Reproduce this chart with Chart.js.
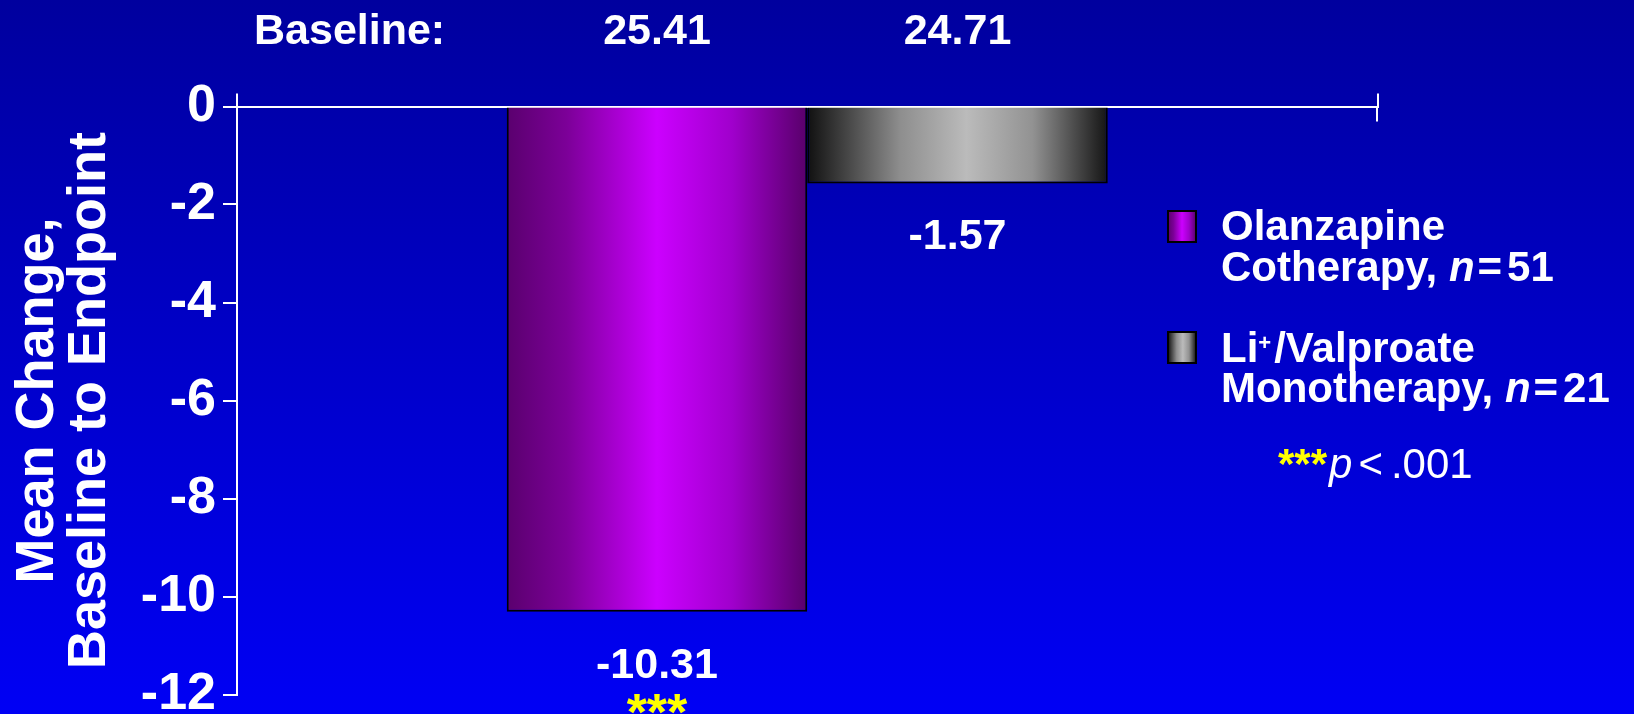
<!DOCTYPE html>
<html><head><meta charset="utf-8">
<script src="https://cdn.jsdelivr.net/npm/chart.js@4.4.1/dist/chart.umd.min.js"></script>
<style>html,body{margin:0;padding:0;background:#0000c8;overflow:hidden}#wrap{width:1634px;height:714px}</style>
</head><body><div id="wrap"><canvas id="c" width="1634" height="714"></canvas></div>
<script>
// ---- data ----
const categories = [''];
const seriesNames = ['Olanzapine Cotherapy', 'Li+/Valproate Monotherapy'];
const meanChange = [-10.31, -1.57];
const baselineValues = [25.41, 24.71];
const sampleSizes = [51, 21];
const significance = ['***', ''];
const yTicks = [0, -2, -4, -6, -8, -10, -12];
const yTitleLines = ['Mean Change,', 'Baseline to Endpoint'];
const baselineLabel = 'Baseline:';
const footnote = { stars: '***', p: 'p', rest: ['<', '.001'] };

// ---- styles ----
const FONT = '"Liberation Sans", Arial, Helvetica, sans-serif';
const gradStops = [
  [[0, '#5a006e'], [0.2, '#7c0098'], [0.5, '#cc00ff'], [0.75, '#a000cc'], [1, '#58006a']],
  [[0, '#101010'], [0.31, '#8e8e8e'], [0.53, '#bbbbbb'], [0.75, '#929292'], [1, '#141414']]
];
function makeGrad(ctx, x0, x1, stops) {
  const g = ctx.createLinearGradient(x0, 0, x1, 0);
  stops.forEach(s => g.addColorStop(s[0], s[1]));
  return g;
}
function barGradient(context) {
  const chart = context.chart;
  const di = context.datasetIndex;
  if (!chart.chartArea) return gradStops[di][2][1];
  let x0, x1;
  try {
    const ctrl = chart.getDatasetMeta(di).controller;
    const ruler = ctrl._getRuler();
    const ip = ctrl._calculateBarIndexPixels(context.dataIndex, ruler);
    x0 = ip.center - ip.size / 2; x1 = ip.center + ip.size / 2;
  } catch (e) {
    const xs = chart.scales.x;
    const n = chart.data.datasets.length;
    const size = xs.width / categories.length * 0.527 / n;
    const c = xs.getPixelForValue(context.dataIndex);
    x0 = c + (di - n / 2) * size; x1 = x0 + size;
  }
  if (!isFinite(x0) || !isFinite(x1)) return gradStops[di][2][1];
  return makeGrad(chart.ctx, x0, x1, gradStops[di]);
}

const bgPlugin = {
  id: 'bg',
  beforeDraw(chart) {
    const { ctx, width, height } = chart;
    const g = ctx.createLinearGradient(0, 0, 0, height);
    g.addColorStop(0, '#00009e');
    g.addColorStop(1, '#0000f5');
    ctx.save(); ctx.fillStyle = g; ctx.fillRect(0, 0, width, height); ctx.restore();
  }
};

function drawSegs(ctx, x, y, segs) {
  let cx = x;
  segs.forEach(s => {
    cx += (s.gap || 0);
    ctx.font = s.font;
    ctx.fillStyle = s.color || '#ffffff';
    ctx.fillText(s.t, cx, y + (s.dy || 0));
    cx += ctx.measureText(s.t).width;
  });
}

const annotPlugin = {
  id: 'annot',
  afterDraw(chart) {
    const { ctx, chartArea } = chart;
    const ys = chart.scales.y;
    const B = 'bold 43px ' + FONT;
    ctx.save();
    ctx.textBaseline = 'alphabetic';
    ctx.fillStyle = '#ffffff';
    // baseline row
    ctx.font = B; ctx.textAlign = 'left';
    ctx.fillText(baselineLabel, chartArea.left + 17, 44);
    ctx.textAlign = 'center';
    chart.data.datasets.forEach((ds, i) => {
      const el = chart.getDatasetMeta(i).data[0];
      ctx.font = B; ctx.fillStyle = '#ffffff';
      ctx.fillText(baselineValues[i].toFixed(2), el.x, 44);
      const yEnd = ys.getPixelForValue(meanChange[i]);
      ctx.fillText(meanChange[i].toFixed(2), el.x, yEnd + 66);
      if (significance[i]) {
        ctx.font = 'bold 52px ' + FONT; ctx.fillStyle = '#ffff00';
        ctx.fillText(significance[i], el.x, yEnd + 118);
      }
    });
    // right-end tick extension below the zero line
    ctx.strokeStyle = '#ffffff'; ctx.lineWidth = 2;
    ctx.beginPath();
    const xr = Math.round(chartArea.right) - 1;
    ctx.moveTo(xr, chartArea.top); ctx.lineTo(xr, chartArea.top + 15); ctx.stroke();

    // legend
    ctx.textAlign = 'left';
    const LB = 'bold 42px ' + FONT, LI = 'italic bold 42px ' + FONT;
    const legendEntries = [
      { sw: 211, base1: 240, base2: 280.7,
        l1: [{ t: 'Olanzapine', font: LB }],
        l2: [{ t: 'Cotherapy, ', font: LB }, { t: 'n', font: LI }, { t: '=', font: LB, gap: 3 }, { t: String(sampleSizes[0]), font: LB, gap: 5 }] },
      { sw: 332, base1: 361.7, base2: 401.7,
        l1: [{ t: 'Li', font: LB }, { t: '+', font: 'bold 22px ' + FONT, dy: -12, gap: 0 }, { t: '/Valproate', font: LB, gap: 3 }],
        l2: [{ t: 'Monotherapy, ', font: LB }, { t: 'n', font: LI }, { t: '=', font: LB, gap: 3 }, { t: String(sampleSizes[1]), font: LB, gap: 5 }] }
    ];
    legendEntries.forEach((e, i) => {
      const sx = 1168, sw = 28, sh = 31;
      ctx.fillStyle = makeGrad(ctx, sx, sx + sw, gradStops[i]);
      ctx.fillRect(sx, e.sw, sw, sh);
      ctx.strokeStyle = '#000000'; ctx.lineWidth = 2;
      ctx.strokeRect(sx, e.sw, sw, sh);
      drawSegs(ctx, 1221, e.base1, e.l1);
      drawSegs(ctx, 1221, e.base2, e.l2);
    });
    // footnote
    drawSegs(ctx, 1278, 478, [
      { t: footnote.stars, font: 'bold 42px ' + FONT, color: '#ffff00' },
      { t: footnote.p, font: 'italic 42px ' + FONT, gap: 2 },
      { t: footnote.rest[0], font: '42px ' + FONT, gap: 6 },
      { t: footnote.rest[1], font: '42px ' + FONT, gap: 8 }
    ]);
    ctx.restore();
  }
};

new Chart(document.getElementById('c'), {
  type: 'bar',
  data: {
    labels: categories,
    datasets: seriesNames.map((name, i) => ({
      label: name,
      data: [meanChange[i]],
      backgroundColor: barGradient,
      borderColor: '#000000',
      borderWidth: 2,
      barPercentage: 1,
      categoryPercentage: 0.527
    }))
  },
  options: {
    responsive: false,
    animation: false,
    events: [],
    layout: { padding: { left: 0, top: 93.5, right: 256.5, bottom: 19.5 } },
    plugins: { legend: { display: false }, tooltip: { enabled: false }, title: { display: false } },
    scales: {
      x: {
        position: 'top',
        z: 1,
        ticks: { display: false },
        grid: { display: true, drawOnChartArea: false, drawTicks: true, tickLength: 13, color: '#ffffff', lineWidth: 2 },
        border: { display: true, color: '#ffffff', width: 2 }
      },
      y: {
        min: -12, max: 0,
        afterBuildTicks(scale) { scale.ticks = yTicks.map(v => ({ value: v })); },
        afterFit(scale) { scale.width = 237; scale.paddingTop = 0; scale.paddingBottom = 0; },
        ticks: { color: '#ffffff', padding: 7, font: { family: FONT, size: 52, weight: 'bold' } },
        grid: { drawOnChartArea: false, drawTicks: true, tickLength: 14, color: '#ffffff', lineWidth: 2 },
        border: { display: true, color: '#ffffff', width: 2 },
        title: {
          display: true, text: yTitleLines, color: '#ffffff',
          font: { family: FONT, size: 54, weight: 'bold', lineHeight: 0.96 },
          padding: { top: 12.4, bottom: 0 }
        }
      }
    }
  },
  plugins: [bgPlugin, annotPlugin]
});
</script>
</body></html>
